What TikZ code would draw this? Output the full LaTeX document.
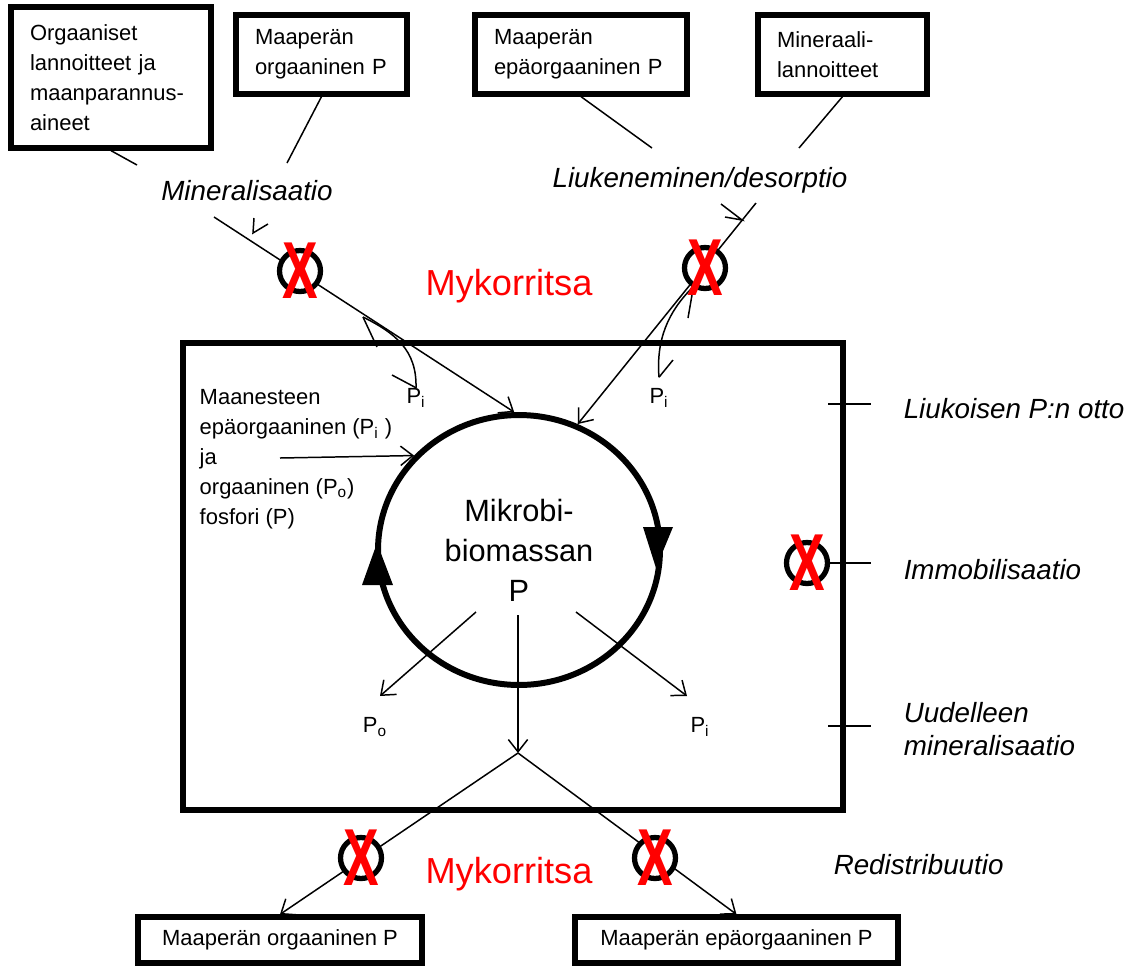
\documentclass[tikz,border=0pt]{standalone}
\usepackage{fontspec}
\setmainfont{Liberation Sans}
\usetikzlibrary{arrows.meta,shapes.geometric}
\hyphenpenalty=10000
\exhyphenpenalty=10000

\begin{document}
\begin{tikzpicture}[x=0.02cm,y=-0.02cm,line width=0.85pt,
  box/.style={draw,line width=3pt,align=left,inner xsep=0.38cm,font=\fontsize{12.5}{17}\selectfont},
  sbox/.style={draw,line width=3pt,minimum height=0.92cm,font=\fontsize{12.5}{17}\selectfont},
  lab/.style={font=\fontsize{12.5}{17}\selectfont,inner sep=0pt},
  proc/.style={font=\fontsize{15.8}{19}\selectfont\itshape,inner sep=0pt,align=left},
  myk/.style={text=red,font=\fontsize{20.6}{24}\selectfont,inner sep=0pt},
  nox/.style={circle,draw,fill=white,line width=3pt,minimum size=0.82cm,inner sep=0pt,
    label={[text=red,inner sep=0pt,font=\fontsize{46}{46}\selectfont\bfseries]center:\scalebox{0.66}[1]{X}}},
  arr/.style={-{Straight Barb[length=7pt,width=11pt]}}]

\useasboundingbox (0,0) rectangle (1134,965);

\node[draw,line width=3pt,minimum width=13.2cm,minimum height=9.34cm] (soil) at (513,576.5) {};

\node[box,text width=3.24cm,minimum height=2.82cm] (orglann) at (111,77.5) {Orgaaniset\\lannoitteet~ja\\maanparannus-\\aineet};
\node[box,text width=2.66cm,minimum height=1.58cm] (maorg) at (321.5,54.5) {Maaperän\\orgaaninen~P};
\node[box,text width=3.48cm,minimum height=1.58cm] (maepa) at (581,54.5) {Maaperän\\epäorgaaninen~P};
\node[box,text width=2.62cm,minimum height=1.58cm] (minlann) at (842.5,54.5) {Mineraali-\\lannoitteet};

\node[proc] (miner) at (247,191) {Mineralisaatio};
\node[proc] (liuk) at (700,180) {Liukeneminen/desorptio};

\coordinate (ea) at (137,165);
\coordinate (eb) at (287,163);
\coordinate (ec) at (652,148);
\coordinate (ed) at (799,148);
\draw (orglann.south) -- (ea);
\draw (maorg.south) -- (eb);
\draw (maepa.south) -- (ec);
\draw (minlann.south) -- (ed);

\node[ellipse,draw,line width=3.4pt,minimum width=5.64cm,minimum height=5.4cm,align=center,
  font=\fontsize{17.5}{22.7}\selectfont] (mik) at (519,550) {Mikrobi-\\biomassan\\P};
\fill (643,527) -- (673,527) -- (656,568) -- cycle;
\fill (362,585) -- (393,585) -- (377,543) -- cycle;

\node[lab,align=left,anchor=west] (soiltxt) at (199,459)
  {Maanesteen\\epäorgaaninen (P\textsubscript{i} )\\ja\\orgaaninen (P\textsubscript{o})\\fosfori (P)};
\node[lab] (pil) at (416,398) {P\textsubscript{i}};
\node[lab] (pir) at (659,398) {P\textsubscript{i}};
\node[lab] (po) at (375,727) {P\textsubscript{o}};
\node[lab] (pib) at (700,727) {P\textsubscript{i}};

\coordinate (mins) at (214,217);
\coordinate (lius) at (756,203);
\coordinate (jas) at (280,458);
\draw[arr] (mins) -- (mik.92);
\draw[arr] (lius) -- (mik.65);
\draw[arr] (jas) -- (mik.138);
\draw (254,218) -- (253,233) -- (268,224);
\draw (721,204) -- (742,220) -- (725,217);

\coordinate (cl) at (363,317);
\coordinate (cr) at (692,288);
\draw (cl) .. controls (395,333) and (417,350) .. (pil.north);
\draw (cl) -- (377,347);
\draw (392,375) -- (pil.north);
\draw (cr) .. controls (668,312) and (656,340) .. ([yshift=6pt]pir.north);
\draw (692,295) -- (688,318);
\draw (673,360) -- ([yshift=6pt]pir.north);

\coordinate (sp) at (518,615);
\coordinate (split) at (518,753);
\coordinate (so) at (476,612);
\coordinate (si) at (576,612);
\coordinate (tpo) at (380,696);
\coordinate (tpi) at (687,696);
\draw[arr] (so) -- (tpo);
\draw[arr] (si) -- (tpi);
\draw[arr] (sp) -- (split);

\node[sbox,minimum width=5.68cm] (borg) at (280,940) {Maaperän orgaaninen P};
\node[sbox,minimum width=6.46cm] (bepa) at (736.5,940) {Maaperän epäorgaaninen P};
\draw[arr] (split) -- (borg.north);
\draw[arr] (split) -- (bepa.north);

\coordinate (pmin) at (300,271);
\coordinate (pliu) at (705,268);
\coordinate (pimm) at (807,563);
\coordinate (porg) at (361,858);
\coordinate (pepa) at (655,858);
\draw (828,404) -- (871,404);
\draw (pimm) -- (871,563);
\draw (828,726) -- (871,726);
\node[nox] (xmin) at (pmin) {};
\node[nox] (xliu) at (pliu) {};
\node[nox] (ximm) at (pimm) {};
\node[nox] (xorg) at (porg) {};
\node[nox] (xepa) at (pepa) {};

\node[myk] (myk1) at (509,286) {Mykorritsa};
\node[myk] (myk2) at (509,874) {Mykorritsa};

\node[proc,anchor=west] (otto) at (903,409) {Liukoisen P:n otto};
\node[proc,anchor=west] (immo) at (903,570) {Immobilisaatio};
\node[proc,anchor=west] (uud) at (903,729) {Uudelleen\\mineralisaatio};
\node[proc,anchor=west] (redis) at (833,865) {Redistribuutio};
\end{tikzpicture}
\end{document}
